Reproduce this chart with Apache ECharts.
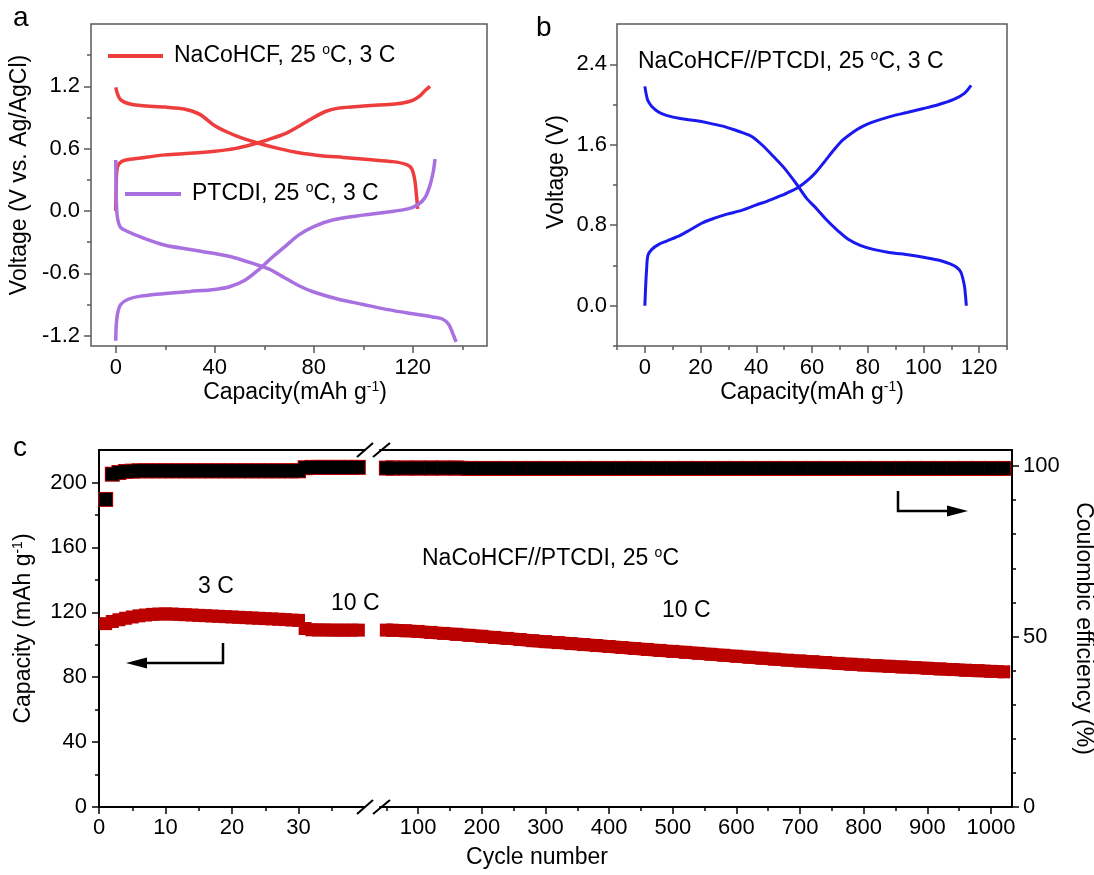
<!DOCTYPE html>
<html>
<head>
<meta charset="utf-8">
<script src="https://cdn.jsdelivr.net/npm/echarts@6/dist/echarts.min.js"></script>
<style>
  html, body { margin: 0; padding: 0; background: #fff; }
  #chart { width: 1094px; height: 875px; }
</style>
</head>
<body>
<div id="chart"></div>
<script>
// ---- panel a: half cells (capacity mAh/g, voltage V vs Ag/AgCl)
const naChargeCap = [0, 0.2, 0.5, 1.5, 4, 10, 20, 30, 40, 48, 55, 62, 69, 75, 80, 85, 90, 100, 110, 116, 120, 123, 125, 127];
const naChargeV = [0.0, 0.25, 0.4, 0.46, 0.49, 0.51, 0.54, 0.555, 0.575, 0.6, 0.64, 0.69, 0.75, 0.83, 0.9, 0.96, 0.99, 1.01, 1.025, 1.04, 1.065, 1.11, 1.16, 1.2];
const naDischCap = [0, 0.8, 2, 5, 10, 20, 28, 34, 40, 45, 50, 58, 66, 74, 82, 92, 102, 112, 117, 119.5, 120.8, 121.5, 122];
const naDischV = [1.19, 1.12, 1.07, 1.035, 1.015, 1.0, 0.98, 0.93, 0.82, 0.76, 0.71, 0.65, 0.6, 0.56, 0.535, 0.515, 0.495, 0.475, 0.45, 0.41, 0.3, 0.15, 0.02];
const ptDischCap = [0, 0.1, 0.3, 0.8, 2, 5, 10, 20, 30, 40, 48, 56, 62, 68, 74, 80, 90, 100, 110, 120, 128, 132, 134.5, 136, 137.5];
const ptDischV = [0.49, 0.3, 0.05, -0.08, -0.16, -0.2, -0.25, -0.33, -0.37, -0.41, -0.45, -0.51, -0.56, -0.64, -0.72, -0.78, -0.85, -0.9, -0.95, -0.99, -1.02, -1.04, -1.09, -1.17, -1.26];
const ptChargeCap = [0, 0.2, 0.8, 2, 5, 10, 20, 30, 40, 46, 52, 58, 63, 68, 74, 80, 88, 100, 110, 118, 122, 125, 127, 128.3, 129];
const ptChargeV = [-1.25, -1.1, -0.98, -0.9, -0.85, -0.82, -0.795, -0.775, -0.755, -0.73, -0.67, -0.56, -0.45, -0.35, -0.23, -0.15, -0.085, -0.04, -0.01, 0.02, 0.06, 0.13, 0.25, 0.38, 0.5];

// ---- panel b: full cell
const fullChargeCap = [0, 0.3, 0.6, 1.1, 2.5, 5, 8, 12.7, 16, 20.4, 25, 29.5, 35, 39.8, 44, 47.6, 51, 55.3, 59, 61.8, 65, 68.2, 71, 74.7, 78, 81.2, 88, 94.1, 100, 105, 110.9, 114.7, 117.1];
const fullChargeV = [0.0, 0.2, 0.35, 0.5, 0.56, 0.61, 0.645, 0.7, 0.75, 0.82, 0.87, 0.91, 0.95, 1.0, 1.04, 1.08, 1.12, 1.18, 1.26, 1.34, 1.45, 1.56, 1.645, 1.725, 1.78, 1.82, 1.88, 1.92, 1.96, 1.995, 2.05, 2.11, 2.19];
const fullDischCap = [0, 0.5, 1.05, 2.5, 4.9, 8, 12.7, 18, 23, 28, 30.8, 35, 38.5, 42, 46.3, 50, 54.7, 58, 61.8, 65, 69.5, 73, 77.3, 82, 87.6, 95, 100.5, 106, 109.6, 112, 113.5, 114.7, 115.1, 115.4];
const fullDischV = [2.18, 2.1, 2.04, 1.98, 1.925, 1.89, 1.86, 1.84, 1.815, 1.785, 1.76, 1.72, 1.68, 1.6, 1.48, 1.37, 1.2, 1.07, 0.96, 0.86, 0.74, 0.66, 0.6, 0.56, 0.53, 0.505, 0.48, 0.45, 0.415, 0.38, 0.33, 0.2, 0.1, 0.0];

// ---- panel c: cycling (left part of broken axis: cycles 1-39)
const cyclesA = [1, 2, 3, 4, 5, 6, 7, 8, 9, 10, 11, 12, 13, 14, 15, 16, 17, 18, 19, 20, 21, 22, 23, 24, 25, 26, 27, 28, 29, 30, 31, 32, 33, 34, 35, 36, 37, 38, 39];
const capA = [113.0, 114.3, 115.4, 116.3, 117.1, 117.8, 118.3, 118.7, 118.9, 119.0, 118.9, 118.7, 118.5, 118.3, 118.1, 117.9, 117.7, 117.5, 117.3, 117.1, 116.9, 116.7, 116.5, 116.3, 116.1, 115.9, 115.7, 115.5, 115.2, 115.0, 110.0, 109.2, 109.1, 109.1, 109.0, 109.0, 109.0, 109.0, 109.0];
const ceA = [90.2, 97.6, 98.1, 98.4, 98.5, 98.6, 98.6, 98.6, 98.6, 98.6, 98.6, 98.6, 98.6, 98.6, 98.6, 98.6, 98.6, 98.6, 98.6, 98.6, 98.6, 98.6, 98.6, 98.6, 98.6, 98.6, 98.6, 98.6, 98.6, 98.6, 99.5, 99.6, 99.6, 99.6, 99.6, 99.6, 99.6, 99.6, 99.6];
// right part of broken axis
const cyclesB = [50, 60, 80, 100, 120, 140, 160, 180, 200, 220, 240, 260, 280, 300, 320, 340, 360, 380, 400, 420, 440, 460, 480, 500, 520, 540, 560, 580, 600, 620, 640, 660, 680, 700, 720, 740, 760, 780, 800, 820, 840, 860, 880, 900, 920, 940, 960, 980, 1000, 1020];
const capB = [109.0, 108.9, 108.6, 108.2, 107.6, 107.0, 106.4, 105.8, 105.2, 104.5, 103.9, 103.2, 102.5, 101.9, 101.3, 100.7, 100.1, 99.5, 98.9, 98.3, 97.7, 97.1, 96.5, 95.9, 95.3, 94.7, 94.1, 93.5, 92.9, 92.3, 91.7, 91.1, 90.5, 90.0, 89.5, 89.0, 88.5, 88.0, 87.5, 87.1, 86.7, 86.3, 85.9, 85.5, 85.1, 84.7, 84.3, 84.0, 83.6, 83.3];
const ceB = [99.4, 99.4, 99.4, 99.4, 99.4, 99.4, 99.4, 99.3, 99.3, 99.3, 99.3, 99.3, 99.3, 99.3, 99.3, 99.3, 99.3, 99.3, 99.3, 99.3, 99.3, 99.3, 99.3, 99.3, 99.3, 99.3, 99.3, 99.3, 99.3, 99.3, 99.3, 99.3, 99.3, 99.3, 99.3, 99.3, 99.3, 99.3, 99.3, 99.3, 99.3, 99.3, 99.3, 99.3, 99.3, 99.3, 99.3, 99.3, 99.3, 99.3];

// tick values
const ticksAx = [0, 40, 80, 120], minorAx = [20, 60, 100, 140];
const ticksAy = [-1.2, -0.6, 0, 0.6, 1.2], minorAy = [-0.9, -0.3, 0.3, 0.9, 1.5];
const ticksBx = [0, 20, 40, 60, 80, 100, 120], minorBx = [-10, 10, 30, 50, 70, 90, 110, 130];
const ticksBy = [0, 0.8, 1.6, 2.4], minorBy = [-0.4, 0.4, 1.2, 2.0];
const ticksCx1 = [0, 10, 20, 30], minorCx1 = [5, 15, 25, 35];
const ticksCx2 = [100, 200, 300, 400, 500, 600, 700, 800, 900, 1000], minorCx2 = [50, 150, 250, 350, 450, 550, 650, 750, 850, 950];
const ticksCap = [0, 40, 80, 120, 160, 200], minorCap = [20, 60, 100, 140, 180];
const ticksCe = [0, 50, 100], minorCe = [10, 20, 30, 40, 60, 70, 80, 90];

const FONT = 'Arial, "Liberation Sans", sans-serif';
const FRAME = '#5a5a5a';
const RED = '#ee3d3d', PURPLE = '#a970e0', BLUE = '#1a1af0', DARKRED = '#bb0000';

const rich = {
  t: { fontSize: 23, lineHeight: 26, fontFamily: FONT, color: '#000' },
  s: { fontSize: 14, lineHeight: 14, verticalAlign: 'top', fontFamily: FONT, color: '#000' }
};

const zip = (xs, ys) => xs.map((x, i) => [x, ys[i]]);
const fix1 = v => v.toFixed(1);
const plain = v => String(v);

function ax(gridIndex, min, max, o) {
  const color = o.color || '#000';
  const a = {
    type: 'value', gridIndex, min, max,
    position: o.pos,
    show: o.show !== false,
    axisLine: { show: !!o.line, onZero: false, lineStyle: { color, width: 2 } },
    axisTick: o.ticks
      ? { show: true, customValues: o.ticks, length: o.len || 7, lineStyle: { color, width: 1.5 } }
      : { show: false },
    axisLabel: { show: false },
    splitLine: { show: false }
  };
  if (o.labels) {
    a.axisLabel = {
      show: true, customValues: o.ticks, margin: o.margin || 10,
      fontSize: 22, fontFamily: FONT, color: '#000', formatter: o.fmt || plain
    };
  }
  if (o.name) {
    a.name = o.name;
    a.nameLocation = 'middle';
    a.nameGap = o.gap;
    if (o.rot !== undefined) a.nameRotate = o.rot;
    a.nameTextStyle = { fontSize: 23, fontFamily: FONT, color: '#000', padding: o.pad || 0, rich };
  }
  return a;
}

function text(x, y, str, extra) {
  return {
    type: 'text', x, y, silent: true,
    style: Object.assign({ text: str, fontSize: 23, fontFamily: FONT, fill: '#000', align: 'left', verticalAlign: 'middle', rich }, extra || {})
  };
}
function seg(x1, y1, x2, y2) {
  return { type: 'line', silent: true, shape: { x1, y1, x2, y2 }, style: { stroke: '#000', lineWidth: 2 } };
}
// square markers; on the long segment they are joined by a line as thick as the marker
function squares(xi, yi, size, xs, ys, color, joined) {
  return {
    type: joined ? 'line' : 'scatter', xAxisIndex: xi, yAxisIndex: yi,
    symbol: 'rect', symbolSize: size, showSymbol: true,
    data: zip(xs, ys), itemStyle: { color, opacity: 1 },
    lineStyle: { color, width: size, cap: 'butt' },
    emphasis: { disabled: true }
  };
}

const chart = echarts.init(document.getElementById('chart'));

const option = {
  animation: false,
  backgroundColor: '#fff',
  grid: [
    { left: 91, top: 24, width: 396, height: 322, show: true, borderColor: FRAME, borderWidth: 1.5, backgroundColor: 'transparent', outerBoundsMode: 'none' },
    { left: 617, top: 24, width: 390, height: 322, show: true, borderColor: FRAME, borderWidth: 1.5, backgroundColor: 'transparent', outerBoundsMode: 'none' },
    { left: 99, top: 450, width: 266, height: 357, outerBoundsMode: 'none' },
    { left: 380, top: 450, width: 632, height: 357, outerBoundsMode: 'none' }
  ],
  xAxis: [
    ax(0, -10, 150, { pos: 'bottom', color: FRAME, ticks: ticksAx, labels: true, margin: 11, name: '{t|Capacity(mAh g}{s|-1}{t|)}', gap: 34, pad: [0, 0, 0, 12] }),
    ax(0, -10, 150, { pos: 'bottom', color: FRAME, ticks: minorAx, len: 4 }),
    ax(1, -10, 130, { pos: 'bottom', color: FRAME, ticks: ticksBx, labels: true, margin: 11, name: '{t|Capacity(mAh g}{s|-1}{t|)}', gap: 34 }),
    ax(1, -10, 130, { pos: 'bottom', color: FRAME, ticks: minorBx, len: 4 }),
    ax(2, 0, 40, { pos: 'bottom', line: true, ticks: ticksCx1, labels: true, margin: 10 }),
    ax(2, 0, 40, { pos: 'bottom', ticks: minorCx1, len: 4 }),
    ax(2, 0, 40, { pos: 'top', line: true }),
    ax(3, 40, 1033, { pos: 'bottom', line: true, ticks: ticksCx2, labels: true, margin: 10 }),
    ax(3, 40, 1033, { pos: 'bottom', ticks: minorCx2, len: 4 }),
    ax(3, 40, 1033, { pos: 'top', line: true })
  ],
  yAxis: [
    ax(0, -1.3, 1.8, { pos: 'left', color: FRAME, ticks: ticksAy, labels: true, margin: 11, fmt: fix1, name: '{t|Voltage (V vs. Ag/AgCl)}', gap: 58, pad: [0, 0, 0, 20] }),
    ax(0, -1.3, 1.8, { pos: 'left', color: FRAME, ticks: minorAy, len: 4 }),
    ax(1, -0.4, 2.8, { pos: 'left', color: FRAME, ticks: ticksBy, labels: true, margin: 10, fmt: fix1, name: '{t|Voltage (V)}', gap: 47, pad: [0, 0, 0, 26] }),
    ax(1, -0.4, 2.8, { pos: 'left', color: FRAME, ticks: minorBy, len: 4 }),
    ax(2, 0, 220, { pos: 'left', line: true, ticks: ticksCap, labels: true, margin: 12, name: '{t|Capacity (mAh g}{s|-1}{t|)}', gap: 62 }),
    ax(2, 0, 220, { pos: 'left', ticks: minorCap, len: 4 }),
    ax(2, 0, 104.7, { pos: 'right', show: false }),
    ax(3, 0, 220, { pos: 'left', show: false }),
    ax(3, 0, 104.7, { pos: 'right', line: true, ticks: ticksCe, labels: true, margin: 11, name: '{t|Coulombic efficiency (%)}', gap: 58, rot: -90 }),
    ax(3, 0, 104.7, { pos: 'right', ticks: minorCe, len: 4 })
  ],
  legend: [
    {
      data: ['NaCoHCF'], left: 108, top: 43, padding: 0, icon: 'rect', itemWidth: 55, itemHeight: 4,
      selectedMode: false, formatter: () => '{t|NaCoHCF, 25 }{s|o}{t|C, 3 C}',
      textStyle: { rich, padding: [0, 0, 0, 6] }
    },
    {
      data: ['PTCDI'], left: 125, top: 181, padding: 0, icon: 'rect', itemWidth: 56, itemHeight: 4,
      selectedMode: false, formatter: () => '{t|PTCDI, 25 }{s|o}{t|C, 3 C}',
      textStyle: { rich, padding: [0, 0, 0, 6] }
    }
  ],
  series: [
    { type: 'line', name: 'NaCoHCF', xAxisIndex: 0, yAxisIndex: 0, data: zip(naChargeCap, naChargeV), showSymbol: false, smooth: 0.3, color: RED, lineStyle: { color: RED, width: 3.5 } },
    { type: 'line', name: 'NaCoHCF', xAxisIndex: 0, yAxisIndex: 0, data: zip(naDischCap, naDischV), showSymbol: false, smooth: 0.3, color: RED, lineStyle: { color: RED, width: 3.5 } },
    { type: 'line', name: 'PTCDI', xAxisIndex: 0, yAxisIndex: 0, data: zip(ptDischCap, ptDischV), showSymbol: false, smooth: 0.3, color: PURPLE, lineStyle: { color: PURPLE, width: 3.5 } },
    { type: 'line', name: 'PTCDI', xAxisIndex: 0, yAxisIndex: 0, data: zip(ptChargeCap, ptChargeV), showSymbol: false, smooth: 0.3, color: PURPLE, lineStyle: { color: PURPLE, width: 3.5 } },
    { type: 'line', name: 'full-charge', xAxisIndex: 2, yAxisIndex: 2, data: zip(fullChargeCap, fullChargeV), showSymbol: false, smooth: 0.3, color: BLUE, lineStyle: { color: BLUE, width: 3 } },
    { type: 'line', name: 'full-discharge', xAxisIndex: 2, yAxisIndex: 2, data: zip(fullDischCap, fullDischV), showSymbol: false, smooth: 0.3, color: BLUE, lineStyle: { color: BLUE, width: 3 } },
    // cycling, left segment
    squares(4, 4, 13, cyclesA, capA, DARKRED, false),
    squares(4, 6, 15, cyclesA, ceA, DARKRED, false),
    squares(4, 6, 13, cyclesA, ceA, '#000', false),
    // cycling, right segment
    squares(7, 7, 13, cyclesB, capB, DARKRED, true),
    squares(7, 8, 15, cyclesB, ceB, DARKRED, true),
    squares(7, 8, 13, cyclesB, ceB, '#000', true)
  ],
  graphic: [
    text(13, 18, 'a', { fontSize: 28 }),
    text(536, 28, 'b', { fontSize: 28 }),
    text(13, 448, 'c', { fontSize: 28 }),
    text(638, 62, '{t|NaCoHCF//PTCDI, 25 }{s|o}{t|C, 3 C}'),
    text(422, 559, '{t|NaCoHCF//PTCDI, 25 }{s|o}{t|C}'),
    text(198, 587, '3 C'),
    text(331, 604, '10 C'),
    text(662, 611, '10 C'),
    text(537, 858, 'Cycle number', { align: 'center' }),
    // axis break marks
    seg(357, 814, 373, 800), seg(373, 814, 390, 800),
    seg(357, 457, 373, 443), seg(373, 457, 390, 443),
    // arrows pointing to the axes
    { type: 'polyline', silent: true, shape: { points: [[223, 643], [223, 663], [146, 663]] }, style: { stroke: '#000', lineWidth: 2.5, fill: null } },
    { type: 'polygon', silent: true, shape: { points: [[126, 663], [147, 657.5], [147, 668.5]] }, style: { fill: '#000' } },
    { type: 'polyline', silent: true, shape: { points: [[898, 491], [898, 511], [949, 511]] }, style: { stroke: '#000', lineWidth: 2.5, fill: null } },
    { type: 'polygon', silent: true, shape: { points: [[968, 511], [947, 505.5], [947, 516.5]] }, style: { fill: '#000' } }
  ]
};

chart.setOption(option);
</script>
</body>
</html>
